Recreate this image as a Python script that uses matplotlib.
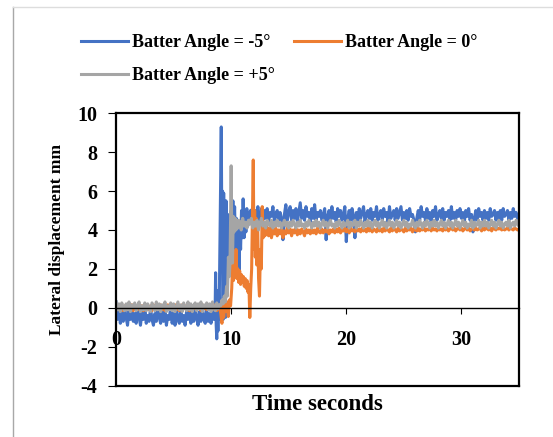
"""
Lateral displacement against time for three batter angles.
"""

import matplotlib.pyplot as plt
import numpy as np
from matplotlib.lines import Line2D

################################################################################

step = 0.125   # sampling step of the base / steady parts (s)

# batter angle = -5
blue_base = [0.3, -0.6, 0.1, -0.8, -0.2, -0.7, 0.0, -0.5,
             -0.9, -0.1, -0.6, 0.1, -0.7, -0.3, -0.8, 0.0,
             -0.5, -0.9, -0.2, -0.6, 0.1, -0.8, -0.4, -0.7,
             0.0, -0.6, -0.9, -0.3, -0.7, 0.1, -0.5, -0.8,
             -0.2, -0.7, 0.0, -0.9, -0.4, -0.6, 0.1, -0.8,
             -0.3, -0.9, -0.1, -0.6, -0.8, 0.0, -0.7, -0.4,
             -0.9, -0.2, -0.6, 0.1, -0.8, -0.3, -0.7, 0.0,
             -0.5, -0.9, -0.2, -0.7, 0.1, -0.6, -0.8, -0.1,
             -0.7, -0.3, -0.8, 0.0, -0.6]
blue_trans_t = [8.6, 8.65, 8.7, 8.75, 8.8, 8.85, 8.9, 8.95, 9.0, 9.07, 9.14, 9.2, 9.25,
                9.3, 9.35, 9.4, 9.45, 9.5, 9.55, 9.62, 9.7, 9.78, 9.85, 9.92, 10.0,
                10.08, 10.15, 10.22, 10.3, 10.38, 10.45, 10.52, 10.6, 10.68, 10.75,
                10.82, 10.9, 10.97, 11.04, 11.12, 11.2, 11.28, 11.36, 11.44, 11.52,
                11.6, 11.68, 11.76, 11.84, 11.92, 12.0, 12.08, 12.16, 12.24, 12.32,
                12.4, 12.48, 12.56, 12.64]
blue_trans = [-0.5, 1.8, -0.9, -1.6, 0.6, -1.2, 0.9, -0.6, 2.0, 5.5, 9.3, 3.0, 6.0,
              -0.6, 5.9, 1.2, 4.5, -0.5, 5.5, 3.0, 4.8, 2.6, 4.6, 3.2, 5.0,
              3.5, 5.5, 3.6, 5.2, 2.8, 4.6, 2.2, 4.4, 1.9, 4.2,
              3.0, 5.0, 3.6, 5.6, 3.6, 4.8, 3.9, 5.1, 4.2, 4.9,
              4.5, 5.0, 4.4, 5.1, 4.6, 4.9, 4.4, 5.0, 4.6, 5.2,
              4.5, 4.9, 4.6, 5.1]
blue_steady_t0 = 12.75
blue_steady = [4.5, 5.0,
               4.6, 5.1, 4.4, 4.9, 4.7, 5.2, 4.5, 4.8,
               5.0, 4.4, 4.9, 4.6, 3.5, 4.8, 5.3, 4.5,
               4.9, 5.2, 4.5, 5.0, 4.6, 5.1, 4.4, 4.9,
               5.4, 4.6, 5.0, 4.5, 5.2, 4.7, 4.9, 4.4,
               5.1, 4.6, 5.3, 4.5, 4.9, 4.7, 5.0, 4.5,
               4.8, 5.1, 3.5, 4.7, 5.0, 4.5, 5.2, 4.6,
               4.9, 4.4, 5.1, 4.7, 5.0, 4.5, 4.8, 5.2,
               3.4, 4.6, 5.0, 4.5, 5.1, 4.7, 3.6, 4.9,
               4.5, 5.1, 4.6, 4.9, 5.2, 4.4, 4.8, 5.0,
               4.6, 5.1, 4.5, 4.9, 4.7, 5.2, 4.5, 4.8,
               5.0, 4.5, 5.1, 4.7, 4.9, 4.4, 5.2, 4.6,
               4.8, 5.0, 4.5, 5.1, 4.6, 4.9, 5.2, 4.5,
               4.9, 4.6, 5.0, 4.5, 5.1, 4.7, 4.8, 4.5,
               3.9, 4.6, 5.0, 4.5, 5.2, 4.7, 4.9, 4.5,
               5.1, 4.6, 4.9, 4.4, 5.0, 4.7, 5.2, 4.5,
               4.8, 5.0, 4.6, 5.1, 4.5, 4.9, 4.7, 5.0,
               4.5, 5.2, 4.6, 4.9, 4.5, 5.0, 4.7, 5.1,
               4.6, 4.9, 4.4, 5.0, 4.7, 5.1, 4.5, 4.8,
               3.9, 4.6, 5.0, 4.5, 5.1, 4.7, 4.9, 4.5,
               5.0, 4.6, 4.9, 4.5, 5.1, 4.7, 4.8, 5.0,
               4.5, 4.9, 4.6, 5.0, 4.5, 5.1, 4.7, 4.8,
               5.0, 4.5, 4.9, 4.6, 5.1, 4.7, 4.9, 4.6,
               4.8]

# batter angle = 0
orange_base = [0.1, -0.1, 0.15, -0.05, 0.1, -0.15, 0.05, 0.15,
               -0.1, 0.1, -0.05, 0.15, -0.15, 0.05, 0.1, -0.1,
               0.15, -0.05, 0.1, -0.15, 0.05, 0.15, -0.1, 0.0,
               0.1, -0.15, 0.15, -0.05, 0.1, -0.1, 0.05, 0.15,
               -0.1, 0.1, -0.15, 0.05, 0.15, -0.05, 0.1, -0.1,
               0.05, 0.15, -0.1, 0.1, -0.15, 0.0, 0.15, -0.05,
               0.1, -0.1, 0.15, -0.15, 0.05, 0.1, -0.05, 0.15,
               -0.1, 0.05, 0.1, -0.15, 0.15, -0.05, 0.1, -0.1,
               0.15, -0.05, 0.1, -0.1, 0.05, 0.15, -0.15, 0.1,
               0.0]
orange_trans_t = [9.1, 9.2, 9.27, 9.35, 9.45, 9.55, 9.65, 9.75, 9.85, 9.95, 10.05,
                  10.12, 10.2, 10.27, 10.35, 10.42, 10.5, 10.58, 10.66, 10.74, 10.82,
                  10.9, 10.98, 11.06, 11.14, 11.22, 11.3, 11.38, 11.46, 11.54, 11.62,
                  11.7, 11.78, 11.86, 11.92, 11.98, 12.04, 12.1, 12.16, 12.22, 12.3,
                  12.38, 12.46, 12.54, 12.62, 12.7, 12.78, 12.86, 12.94, 13.02, 13.1,
                  13.18]
orange_trans = [-0.3, -0.8, 0.2, -0.5, 0.1, -0.2, 0.3, -0.45, 0.4, 0.1, 1.0,
                2.2, 1.4, 2.5, 1.6, 3.0, 1.5, 2.0, 1.3, 1.9, 1.2,
                1.7, 1.3, 1.6, 1.1, 1.5, 1.0, 1.4, 0.8, 1.2, -0.5,
                1.0, 2.0, 5.0, 7.6, 3.0, 5.0, 2.6, 4.6, 2.2, 4.3,
                1.5, 0.6, 3.0, 2.0, 5.2, 3.6, 4.3, 3.7, 4.4, 3.8,
                4.1]
orange_steady_t0 = 13.25
orange_steady = [3.7, 4.1, 3.6, 4.0, 3.8, 4.1,
                 3.7, 4.0, 3.8, 4.1, 3.6, 3.95, 3.8, 4.1,
                 3.85, 4.05, 3.7, 4.0, 3.85, 4.1, 3.75, 4.0,
                 3.8, 4.05, 3.9, 3.7, 4.05, 3.85, 4.0, 3.8,
                 4.05, 3.85, 4.0, 3.8, 4.1, 3.9, 3.85, 4.05,
                 3.85, 4.0, 3.9, 4.1, 3.8, 4.0, 3.9, 4.05,
                 3.85, 4.05, 3.9, 4.1, 3.85, 4.0, 3.95, 4.1,
                 3.9, 4.05, 3.85, 4.1, 3.95, 4.0, 3.9, 4.1,
                 3.95, 4.05, 3.9, 4.1, 3.95, 4.05, 3.9, 4.1,
                 3.95, 4.1, 3.9, 4.05, 4.0, 3.9, 4.1, 3.95,
                 4.05, 3.9, 4.1, 3.95, 4.05, 4.0, 3.9, 4.1,
                 3.95, 4.1, 4.0, 3.9, 4.1, 3.95, 4.05, 4.0,
                 3.9, 4.1, 3.95, 4.05, 4.0, 4.1, 3.9, 4.05,
                 4.0, 3.95, 4.1, 3.95, 4.05, 4.0, 4.1, 3.95,
                 4.05, 4.0, 4.1, 3.95, 4.1, 4.0, 4.05, 3.95,
                 4.1, 4.0, 4.05, 3.95, 4.1, 4.0, 4.1, 3.95,
                 4.05, 4.1, 4.0, 4.1, 3.95, 4.05, 4.1, 4.0,
                 4.1, 3.95, 4.05, 4.1, 4.0, 4.1, 3.95, 4.05,
                 4.1, 4.0, 4.1, 4.0, 4.05, 4.1, 3.95, 4.1,
                 4.0, 4.1, 4.05, 4.0, 4.1, 3.95, 4.1, 4.05,
                 4.0, 4.1, 4.05, 4.1, 4.0, 4.1, 4.0, 4.05,
                 4.1, 4.0, 4.1, 4.05, 4.0, 4.1, 4.05, 4.0,
                 4.05]

# batter angle = +5
gray_base = [0.3, -0.1, 0.2, -0.2, 0.25, 0.0, -0.15, 0.2,
             -0.1, 0.3, -0.2, 0.15, 0.0, 0.25, -0.15, 0.1,
             0.3, -0.2, 0.1, -0.1, 0.25, -0.15, 0.2, 0.0,
             -0.2, 0.25, 0.05, -0.15, 0.3, -0.1, 0.2, -0.2,
             0.15, 0.0, 0.3, -0.2, 0.1, -0.1, 0.25, -0.15,
             0.2, -0.2, 0.05, 0.3, -0.1, 0.15, -0.2, 0.25,
             0.0, -0.15, 0.3, -0.1, 0.2, -0.2, 0.1, 0.25,
             -0.15, 0.2, -0.05, 0.3, -0.2, 0.15, 0.0, 0.25,
             -0.1, 0.2, -0.2, 0.3, 0.0, -0.15, 0.25, -0.05,
             0.15]
gray_trans_t = [9.1, 9.2, 9.3, 9.4, 9.5, 9.6, 9.68, 9.76, 9.84, 9.9, 9.96, 10.0,
                10.06, 10.12, 10.18, 10.26, 10.34, 10.42, 10.5, 10.58, 10.66]
gray_trans = [0.1, 0.4, 0.2, 0.6, 0.3, 1.1, 0.6, 2.6, 1.6, 2.3, 5.0, 7.3,
              3.0, 2.3, 4.7, 3.9, 4.6, 4.0, 4.5, 4.1, 4.5]
gray_steady_t0 = 10.75
gray_steady = [4.4, 4.0,
               4.6, 4.2, 4.4, 4.1, 4.5, 4.3, 4.6, 4.1,
               4.4, 4.2, 4.5, 4.0, 4.3, 4.6, 4.2, 4.4,
               4.1, 4.5, 4.3, 4.2, 4.5, 4.1, 4.4, 4.2,
               4.5, 4.2, 4.4, 4.1, 4.3, 4.5, 4.2, 4.4,
               4.1, 4.4, 4.2, 4.5, 4.3, 4.1, 4.4, 4.2,
               4.5, 4.2, 4.3, 4.1, 4.4, 4.2, 4.5, 4.3,
               4.1, 4.4, 4.2, 4.5, 4.2, 4.4, 4.1, 4.3,
               4.5, 4.2, 4.4, 4.1, 4.3, 4.5, 4.2, 4.3,
               4.1, 4.4, 4.2, 4.5, 4.3, 4.1, 4.4, 4.2,
               4.3, 4.5, 4.1, 4.4, 4.2, 4.3, 4.5, 4.1,
               4.4, 4.2, 4.5, 4.3, 4.1, 4.4, 4.2, 4.5,
               4.2, 4.4, 4.1, 4.3, 4.5, 4.2, 4.4, 4.1,
               4.3, 4.5, 4.2, 4.4, 4.1, 4.3, 4.5, 4.2,
               4.4, 4.1, 4.3, 4.5, 4.2, 4.4, 4.1, 4.3,
               4.5, 4.2, 4.4, 4.1, 4.3, 4.2, 4.5, 4.3,
               4.1, 4.4, 4.2, 4.5, 4.3, 4.1, 4.4, 4.2,
               4.5, 4.3, 4.1, 4.4, 4.2, 4.5, 4.2, 4.4,
               4.1, 4.3, 4.5, 4.2, 4.4, 4.1, 4.3, 4.5,
               4.2, 4.4, 4.1, 4.3, 4.5, 4.2, 4.4, 4.1,
               4.3, 4.5, 4.2, 4.4, 4.1, 4.3, 4.2, 4.5,
               4.1, 4.4, 4.2, 4.3, 4.5, 4.1, 4.4, 4.2,
               4.5, 4.2, 4.4, 4.1, 4.3, 4.5, 4.2, 4.4,
               4.1, 4.3, 4.5, 4.2, 4.4, 4.1, 4.3, 4.4,
               4.2, 4.5, 4.1, 4.3, 4.4, 4.2, 4.5, 4.3,
               4.2]

labels = ["Batter Angle = -5°", "Batter Angle = 0°", "Batter Angle = +5°"]
colors = ["#4472C4", "#ED7D31", "#A5A5A5"]

################################################################################

def series(base, trans_t, trans, steady_t0, steady):
   t = np.concatenate([np.arange(len(base)) * step, trans_t,
                       steady_t0 + np.arange(len(steady)) * step])
   y = np.concatenate([base, trans, steady])
   keep = t <= 35
   return t[keep], y[keep]

################################################################################

plt.rcParams["font.family"] = "Liberation Serif"
plt.rcParams["font.weight"] = "bold"
plt.rcParams["axes.unicode_minus"] = False

fig = plt.figure(figsize = (5.53, 4.37), dpi = 100)
ax = fig.add_axes([0.2098, 0.1178, 0.7287, 0.6229])

data = [series(blue_base, blue_trans_t, blue_trans, blue_steady_t0, blue_steady),
        series(orange_base, orange_trans_t, orange_trans, orange_steady_t0, orange_steady),
        series(gray_base, gray_trans_t, gray_trans, gray_steady_t0, gray_steady)]
lines = []
for (t, y), c, lab in zip(data, colors, labels):
   lines += ax.plot(t, y, color = c, lw = 2.2, label = lab)

ax.set_xlim(0, 35)
ax.set_ylim(-4, 10)
ax.set_xticks([0, 10, 20, 30])
ax.set_yticks(np.arange(-4, 11, 2))

# x axis crosses at y = 0, plot area keeps a full box
ax.spines["bottom"].set_position(("data", 0))
ax.spines["bottom"].set_linewidth(1.0)
for s in ["left", "right", "top"]:
   ax.spines[s].set_linewidth(1.6)
ax.plot([0, 1], [0, 0], transform = ax.transAxes, color = "black", lw = 1.6,
        clip_on = False)

ax.tick_params(axis = "x", direction = "out", length = 4, width = 0.8, pad = 12,
               labelsize = 14.5)
ax.tick_params(axis = "y", direction = "out", length = 5.5, width = 0.8, pad = 8,
               labelsize = 14.5)

ax.set_xlabel("Time seconds", fontsize = 16.5, fontweight = "bold")
ax.xaxis.set_label_coords(0.5, -0.03)
ax.set_ylabel("Lateral displacement mm", fontsize = 12.5, fontweight = "bold")
ax.yaxis.set_label_coords(-0.126, 0.535)

fig.legend([lines[0], lines[2], lines[1]], [labels[0], labels[2], labels[1]],
           ncol = 2, loc = "upper left", bbox_to_anchor = (0.146, 0.922),
           frameon = False, borderaxespad = 0, borderpad = 0,
           handlelength = 2.6, handletextpad = 0.22, columnspacing = 1.1,
           labelspacing = 0.9, prop = {"size": 13, "weight": "bold"})

# outer chart border (only left and top visible)
fig.add_artist(Line2D([0.0235, 0.0235], [0, 0.984], color = "#A8A8A8", lw = 1))
fig.add_artist(Line2D([0.0235, 1], [0.984, 0.984], color = "#DDDDDD", lw = 1))

fig.savefig("out.png", dpi = 100)
